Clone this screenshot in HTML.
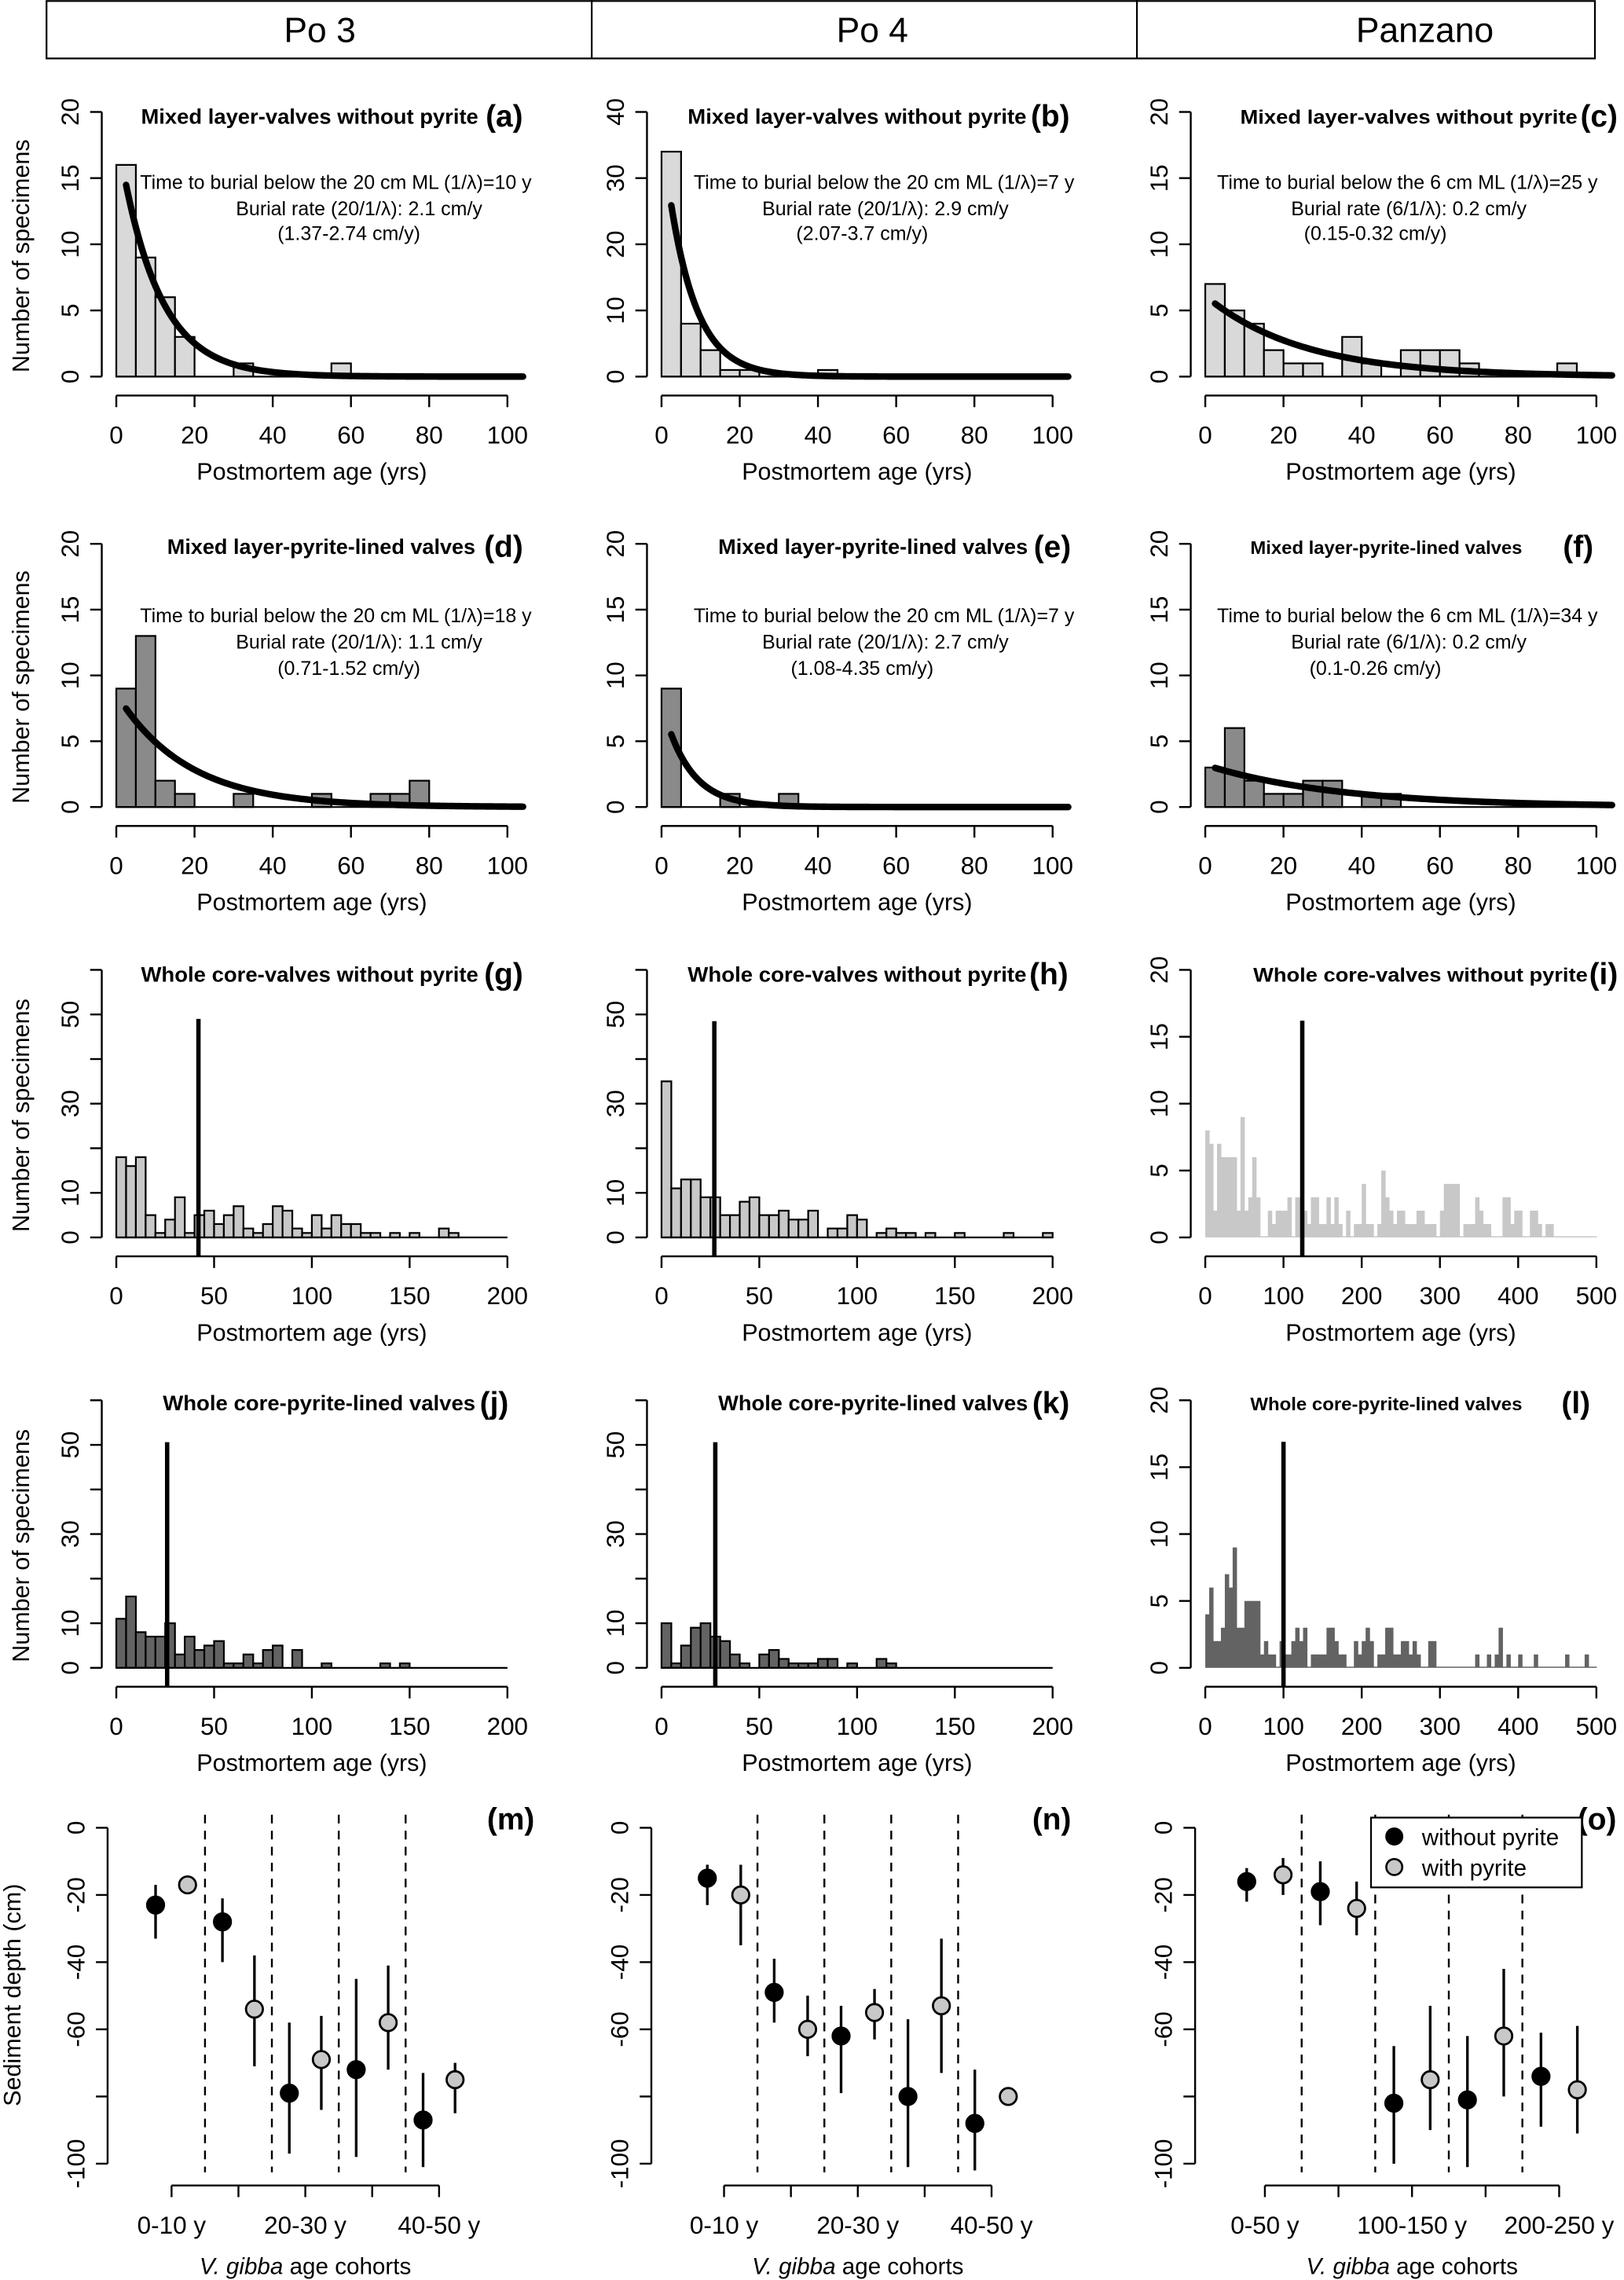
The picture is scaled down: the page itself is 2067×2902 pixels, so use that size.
<!DOCTYPE html>
<html><head><meta charset="utf-8">
<style>
html,body{margin:0;padding:0;background:#fff;}
svg{display:block;font-family:"Liberation Sans",sans-serif;}
</style></head>
<body>
<svg id="fig" xmlns="http://www.w3.org/2000/svg" width="2067" height="2902" viewBox="0 0 1117 1568" preserveAspectRatio="none">
<rect x="0" y="0" width="1117" height="1568" fill="#fff"/>
<g>
<rect x="32" y="0.7" width="1065" height="39.5" fill="none" stroke="#000" stroke-width="1.2"/>
<line x1="407" y1="0" x2="407" y2="40" stroke="#000" stroke-width="1.2"/>
<line x1="782" y1="0" x2="782" y2="40" stroke="#000" stroke-width="1.2"/>
<text x="220" y="29" font-size="24" text-anchor="middle">Po 3</text>
<text x="600" y="29" font-size="24" text-anchor="middle">Po 4</text>
<text x="980" y="29" font-size="24" text-anchor="middle">Panzano</text>
</g>
</svg>
<script>
// ---------- DATA ----------
const histA=[16,9,6,3,0,0,1,0,0,0,0,1,0,0,0,0,0,0,0,0];
const histB=[34,8,4,1,1,0,0,0,1,0,0,0,0,0,0,0,0,0,0,0];
const histC=[7,5,4,2,1,1,0,3,1,0,2,2,2,1,0,0,0,0,1,0];
const histD=[9,13,2,1,0,0,1,0,0,0,1,0,0,1,1,2,0,0,0,0];
const histE=[9,0,0,1,0,0,1,0,0,0,0,0,0,0,0,0,0,0,0,0];
const histF=[3,6,2,1,1,2,2,0,1,1,0,0,0,0,0,0,0,0,0,0];
const histG=[18,16,18,5,1,4,9,1,5,6,3,5,7,2,1,3,7,6,2,1,5,2,5,3,3,1,1,0,1,0,1,0,0,2,1,0,0,0,0,0];
const histH=[35,11,13,13,9,9,5,5,8,9,5,5,6,4,4,6,0,2,2,5,4,0,1,2,1,1,0,1,0,0,1,0,0,0,0,1,0,0,0,1];
const histI=[8,7,2,7,6,6,6,6,2,9,2,3,6,3,0,0,2,1,2,2,2,3,0,3,3,2,1,3,3,1,1,3,1,3,1,0,2,0,1,1,4,1,1,0,1,5,3,2,1,2,2,1,1,1,2,2,1,1,1,0,2,4,4,4,4,0,1,1,1,3,2,1,1,0,0,0,3,3,1,2,2,0,0,2,2,1,0,1,1,0,0,0,0,0,0,0,0,0,0,0];
const histJ=[11,16,8,7,7,10,3,7,4,5,6,1,1,3,1,4,5,0,4,0,0,1,0,0,0,0,0,1,0,1,0,0,0,0,0,0,0,0,0,0];
const histK=[10,1,5,9,10,7,6,3,1,0,3,4,2,1,1,1,2,2,0,1,0,0,2,1,0,0,0,0,0,0,0,0,0,0,0,0,0,0,0,0];
const histL=[4,6,2,2,3,7,6,9,3,3,5,5,5,5,1,2,1,1,0,2,1,1,2,3,2,3,0,1,1,1,1,3,3,2,1,1,0,0,2,1,2,3,2,0,1,1,3,3,1,1,2,2,1,2,1,0,0,2,2,0,0,0,0,0,0,0,0,0,0,1,0,0,1,0,1,3,0,1,0,0,1,0,0,0,1,0,0,0,0,0,0,0,1,0,0,0,0,1,0,0];
// fitted exponential: amplitude at age 0 and mean time to burial (1/lambda, years)
const fitAmp=[18.6,37,6.1,8.6,7.9,3.2];
const fitInvLambda=[10,7,25,18,7,34];
// median age lines (g,h,i,j,k,l) and their top heights
const medianAge=[42,27,124,26,27.5,100];
const medianTop=[49,48.5,16.2,50.6,50.6,16.9];
// depth panels: cohort 1..5, black (without pyrite) and gray (with pyrite)
const cohortLabelsM=["0-10 y","","20-30 y","","40-50 y"];
const cohortLabelsN=["0-10 y","","20-30 y","","40-50 y"];
const cohortLabelsO=["0-50 y","","100-150 y","","200-250 y"];
const mBlack=[-23,-28,-79,-72,-87], mBlackLo=[-33,-40,-97,-98,-101], mBlackHi=[-17,-21,-58,-45,-73];
const mGray=[-17,-54,-69,-58,-75], mGrayLo=[-19,-71,-84,-72,-85], mGrayHi=[-15,-38,-56,-41,-70];
const nBlack=[-15,-49,-62,-80,-88], nBlackLo=[-23,-58,-79,-101,-102], nBlackHi=[-11,-39,-53,-57,-72];
const nGray=[-20,-60,-55,-53,-80], nGrayLo=[-35,-68,-63,-73,-80], nGrayHi=[-11,-50,-48,-33,-80];
const oBlack=[-16,-19,-82,-81,-74], oBlackLo=[-22,-29,-100,-101,-89], oBlackHi=[-12,-10,-65,-62,-61];
const oGray=[-14,-24,-75,-62,-78], oGrayLo=[-20,-32,-90,-80,-91], oGrayHi=[-9,-16,-53,-42,-59];

// ---------- LAYOUT ----------
const NS="http://www.w3.org/2000/svg";
const svg=document.getElementById("fig");
const colX0=[80,455,829], colW=269, colAxis=[70,445,819];
const rowBase=[259,555,851,1147], rowTop=[77,374,667,963];
function mk(tag,attrs,parent,txt){const e=document.createElementNS(NS,tag);for(const k in attrs)e.setAttribute(k,attrs[k]);if(txt!==undefined)e.textContent=txt;parent.appendChild(e);return e;}

function panel(opts){
  const g=mk("g",{},svg);
  
  
  const c=opts.col, r=opts.row;
  const x0=colX0[c], base=rowBase[r], top=rowTop[r];
  const sx=v=>x0+v/opts.xmax*colW;
  const sy=v=>base-v/opts.ymax*(base-top);
  const bars=mk("g",{},g);
  
  
  opts.counts.forEach((v,i)=>{
    const xa=sx(i*opts.bin), xb=sx((i+1)*opts.bin);
    if(opts.noStroke){
      const b=mk("rect",{x:xa,y:sy(v)-(v>0?0:0.8),width:xb-xa+0.3,height:Math.max(v/opts.ymax*(base-top),0.8),fill:opts.fill},bars);
      
      
    } else if(v>0){
      const b=mk("rect",{x:xa,y:sy(v),width:xb-xa,height:v/opts.ymax*(base-top),fill:opts.fill,stroke:"#000","stroke-width":1.2},bars);
      
      
    }
  });
  if(!opts.noStroke){
    const bl=mk("line",{x1:sx(0),y1:base,x2:sx(opts.counts.length*opts.bin),y2:base,stroke:"#000","stroke-width":1.2},bars);
    
    
  }
  if(opts.fit){
    let d="";
    for(let t=2.5;t<=104;t+=0.5){const v=opts.fit[0]*Math.exp(-t/opts.fit[1]);d+=(d?"L":"M")+sx(t).toFixed(2)+","+sy(v).toFixed(2);}
    const p=mk("path",{d:d,fill:"none",stroke:"#000","stroke-width":4.5,"stroke-linecap":"round"},g);
    
    
  }
  if(opts.median!==undefined){
    const l=mk("line",{x1:sx(opts.median),y1:sy(opts.medTop),x2:sx(opts.median),y2:base+13,stroke:"#000","stroke-width":3},g);
    
    
  }
  const ya=mk("g",{},g);
  
  
  const ax=colAxis[c];
  const yl=mk("line",{x1:ax,y1:sy(0),x2:ax,y2:sy(opts.ymax),stroke:"#000","stroke-width":1.3},ya);
  
  
  opts.yticks.forEach(t=>{
    const tk=mk("line",{x1:ax-8,y1:sy(t),x2:ax,y2:sy(t),stroke:"#000","stroke-width":1.3},ya);
    
    
  });
  opts.ylabels.forEach(t=>{
    const tx=mk("text",{x:ax-16,y:sy(t),"font-size":17,"text-anchor":"middle",transform:"rotate(-90 "+(ax-16)+" "+sy(t)+")"},ya,String(t));
    
    
  });
  const xa=mk("g",{},g);
  
  
  const xy=base+13;
  const xl=mk("line",{x1:sx(0),y1:xy,x2:sx(opts.xmax),y2:xy,stroke:"#000","stroke-width":1.3},xa);
  
  
  opts.xticks.forEach(t=>{
    const tk=mk("line",{x1:sx(t),y1:xy,x2:sx(t),y2:xy+8,stroke:"#000","stroke-width":1.3},xa);
    
    
    const tx=mk("text",{x:sx(t),y:xy+33,"font-size":17,"text-anchor":"middle"},xa,String(t));
    
    
  });
  const xt=mk("text",{x:x0+colW/2,y:base+71,"font-size":16.5,"text-anchor":"middle"},xa,"Postmortem age (yrs)");
  
  
  if(c===0){
    const yt=mk("text",{x:20,y:(base+top)/2+8,"font-size":16.5,"text-anchor":"middle",transform:"rotate(-90 20 "+((base+top)/2+8)+")"},g,"Number of specimens");
    
    
  }
  const tb=[85,381,675,970][r];
  const tt=mk("text",{x:opts.t0,y:tb,"font-size":opts.tfs||14.5,"font-weight":"bold",textLength:opts.t1-opts.t0,lengthAdjust:"spacingAndGlyphs"},g,opts.title);
  
  
  const pl=mk("text",{x:opts.lx,y:tb+2,"font-size":21,"font-weight":"bold"},g,"("+opts.id+")");
  
  
  if(opts.notes){
    const ny=[[130,148,165],[428,446,464]][r];
    opts.notes.forEach((s,i)=>{
      const n=mk("text",{x:opts.nc[i],y:ny[i],"font-size":13.5,"text-anchor":"middle"},g,s);
      
      
    });
  }
}
const t100=[0,20,40,60,80,100], t200=[0,50,100,150,200], t500=[0,100,200,300,400,500];
const y20=[0,5,10,15,20], y40=[0,10,20,30,40], y60=[0,10,20,30,40,50,60], y60l=[0,10,30,50];
const LG="#d9d9d9", DG="#8a8a8a", WG="#c8c8c8", WD="#636363";
const T1="Mixed layer-valves without pyrite", T2="Mixed layer-pyrite-lined valves", T3="Whole core-valves without pyrite", T4="Whole core-pyrite-lined valves";
panel({id:"a",col:0,row:0,counts:histA,bin:5,xmax:100,ymax:20,fill:LG,yticks:y20,ylabels:y20,xticks:t100,fit:[fitAmp[0],fitInvLambda[0]],title:T1,t0:97,t1:329,lx:334,
 notes:["Time to burial below the 20 cm ML (1/λ)="+fitInvLambda[0]+" y","Burial rate (20/1/λ): 2.1 cm/y","(1.37-2.74 cm/y)"],nc:[231,247,240]});
panel({id:"b",col:1,row:0,counts:histB,bin:5,xmax:100,ymax:40,fill:LG,yticks:y40,ylabels:y40,xticks:t100,fit:[fitAmp[1],fitInvLambda[1]],title:T1,t0:473,t1:706,lx:709,
 notes:["Time to burial below the 20 cm ML (1/λ)="+fitInvLambda[1]+" y","Burial rate (20/1/λ): 2.9 cm/y","(2.07-3.7 cm/y)"],nc:[608,609,593]});
panel({id:"c",col:2,row:0,counts:histC,bin:5,xmax:100,ymax:20,fill:LG,yticks:y20,ylabels:y20,xticks:t100,fit:[fitAmp[2],fitInvLambda[2]],title:T1,t0:853,t1:1085,tfs:13.5,lx:1087,
 notes:["Time to burial below the 6 cm ML (1/λ)="+fitInvLambda[2]+" y","Burial rate (6/1/λ): 0.2 cm/y","(0.15-0.32 cm/y)"],nc:[968,969,946]});
panel({id:"d",col:0,row:1,counts:histD,bin:5,xmax:100,ymax:20,fill:DG,yticks:y20,ylabels:y20,xticks:t100,fit:[fitAmp[3],fitInvLambda[3]],title:T2,t0:115,t1:327,lx:333,
 notes:["Time to burial below the 20 cm ML (1/λ)="+fitInvLambda[3]+" y","Burial rate (20/1/λ): 1.1 cm/y","(0.71-1.52 cm/y)"],nc:[231,247,240]});
panel({id:"e",col:1,row:1,counts:histE,bin:5,xmax:100,ymax:20,fill:DG,yticks:y20,ylabels:y20,xticks:t100,fit:[fitAmp[4],fitInvLambda[4]],title:T2,t0:494,t1:707,lx:711,
 notes:["Time to burial below the 20 cm ML (1/λ)="+fitInvLambda[4]+" y","Burial rate (20/1/λ): 2.7 cm/y","(1.08-4.35 cm/y)"],nc:[608,609,593]});
panel({id:"f",col:2,row:1,counts:histF,bin:5,xmax:100,ymax:20,fill:DG,yticks:y20,ylabels:y20,xticks:t100,fit:[fitAmp[5],fitInvLambda[5]],title:T2,t0:860,t1:1047,tfs:12.5,lx:1075,
 notes:["Time to burial below the 6 cm ML (1/λ)="+fitInvLambda[5]+" y","Burial rate (6/1/λ): 0.2 cm/y","(0.1-0.26 cm/y)"],nc:[968,969,946]});
panel({id:"g",col:0,row:2,counts:histG,bin:5,xmax:200,ymax:60,fill:WG,yticks:y60,ylabels:y60l,xticks:t200,median:medianAge[0],medTop:medianTop[0],title:T3,t0:97,t1:329,lx:333});
panel({id:"h",col:1,row:2,counts:histH,bin:5,xmax:200,ymax:60,fill:WG,yticks:y60,ylabels:y60l,xticks:t200,median:medianAge[1],medTop:medianTop[1],title:T3,t0:473,t1:706,lx:708});
panel({id:"i",col:2,row:2,counts:histI,bin:5,xmax:500,ymax:20,fill:WG,noStroke:true,yticks:y20,ylabels:y20,xticks:t500,median:medianAge[2],medTop:medianTop[2],title:T3,t0:862,t1:1092,tfs:13.5,lx:1093});
panel({id:"j",col:0,row:3,counts:histJ,bin:5,xmax:200,ymax:60,fill:WD,yticks:y60,ylabels:y60l,xticks:t200,median:medianAge[3],medTop:medianTop[3],title:T4,t0:112,t1:327,lx:330});
panel({id:"k",col:1,row:3,counts:histK,bin:5,xmax:200,ymax:60,fill:WD,yticks:y60,ylabels:y60l,xticks:t200,median:medianAge[4],medTop:medianTop[4],title:T4,t0:494,t1:707,lx:710});
panel({id:"l",col:2,row:3,counts:histL,bin:5,xmax:500,ymax:20,fill:WD,noStroke:true,yticks:y20,ylabels:y20,xticks:t500,median:medianAge[5],medTop:medianTop[5],title:T4,t0:860,t1:1047,tfs:12.5,lx:1074});

// ---------- depth panels ----------
function depthPanel(o){
  const g=mk("g",{},svg);
  
  
  const y0=1257, ysc=2.31;
  const sy=v=>y0-v*ysc;
  const sx=k=>o.c1+(k-1)*o.sp;
  for(let k=1;k<5;k++){
    const dl=mk("line",{x1:sx(k+0.5),y1:1248,x2:sx(k+0.5),y2:1494,stroke:"#000","stroke-width":1.3,"stroke-dasharray":"6,5"},g);
    
    
  }
  const ax=o.ax;
  const yl=mk("line",{x1:ax,y1:sy(0),x2:ax,y2:sy(-100),stroke:"#000","stroke-width":1.3},g);
  
  
  [0,-20,-40,-60,-80,-100].forEach(t=>{
    const tk=mk("line",{x1:ax-8,y1:sy(t),x2:ax,y2:sy(t),stroke:"#000","stroke-width":1.3},g);
    
    
  });
  [0,-20,-40,-60,-100].forEach(t=>{
    const tx=mk("text",{x:ax-16,y:sy(t),"font-size":17,"text-anchor":"middle",transform:"rotate(-90 "+(ax-16)+" "+sy(t)+")"},g,String(t));
    
    
  });
  const xl=mk("line",{x1:sx(1),y1:1503,x2:sx(5),y2:1503,stroke:"#000","stroke-width":1.3},g);
  
  
  o.labels.forEach((s,i)=>{
    const tk=mk("line",{x1:sx(i+1),y1:1503,x2:sx(i+1),y2:1511,stroke:"#000","stroke-width":1.3},g);
    
    
    if(s){
      const tx=mk("text",{x:sx(i+1),y:1536,"font-size":17,"text-anchor":"middle"},g,s);
      
      
    }
  });
  const xt=mk("text",{x:sx(3),y:1564,"font-size":16,"text-anchor":"middle"},g);
  
  
  const it=mk("tspan",{"font-style":"italic"},xt,"V. gibba");
  
  
  mk("tspan",{},xt," age cohorts");
  function series(vals,lo,hi,off,fill,name){
    vals.forEach((v,i)=>{
      const x=sx(i+1)+off;
      const e=mk("line",{x1:x,y1:sy(lo[i]),x2:x,y2:sy(hi[i]),stroke:"#000","stroke-width":1.8},g);
      
      
      const c=mk("circle",{cx:x,cy:sy(v),r:5.8,fill:fill,stroke:"#000","stroke-width":1.5},g);
      
      
    });
  }
  series(o.black,o.blo,o.bhi,-o.off,"#000","point-without-pyrite");
  series(o.gray,o.glo,o.ghi,o.off,"#c8c8c8","point-with-pyrite");
  const pl=mk("text",{x:o.lx,y:1258,"font-size":21,"font-weight":"bold"},g,"("+o.id+")");
  
  
}
depthPanel({id:"m",ax:74,c1:118,sp:46,off:11,labels:cohortLabelsM,black:mBlack,blo:mBlackLo,bhi:mBlackHi,gray:mGray,glo:mGrayLo,ghi:mGrayHi,lx:335});
depthPanel({id:"n",ax:448,c1:498,sp:46,off:11.5,labels:cohortLabelsN,black:nBlack,blo:nBlackLo,bhi:nBlackHi,gray:nGray,glo:nGrayLo,ghi:nGrayHi,lx:710});
depthPanel({id:"o",ax:822,c1:870,sp:50.6,off:12.5,labels:cohortLabelsO,black:oBlack,blo:oBlackLo,bhi:oBlackHi,gray:oGray,glo:oGrayLo,ghi:oGrayHi,lx:1085});
const yt5=mk("text",{x:14,y:1372,"font-size":16.5,"text-anchor":"middle",transform:"rotate(-90 14 1372)"},svg,"Sediment depth (cm)");


const lg=mk("g",{},svg);


const lb=mk("rect",{x:943,y:1250,width:145,height:48,fill:"#fff",stroke:"#000","stroke-width":1.2},lg);


const l1=mk("circle",{cx:959,cy:1263,r:5.5,fill:"#000",stroke:"#000","stroke-width":1.4},lg);


const l1t=mk("text",{x:978,y:1269,"font-size":16},lg,"without pyrite");


const l2=mk("circle",{cx:959,cy:1284,r:5.5,fill:"#c8c8c8",stroke:"#000","stroke-width":1.4},lg);


const l2t=mk("text",{x:978,y:1290,"font-size":16},lg,"with pyrite");


</script>
</body></html>
